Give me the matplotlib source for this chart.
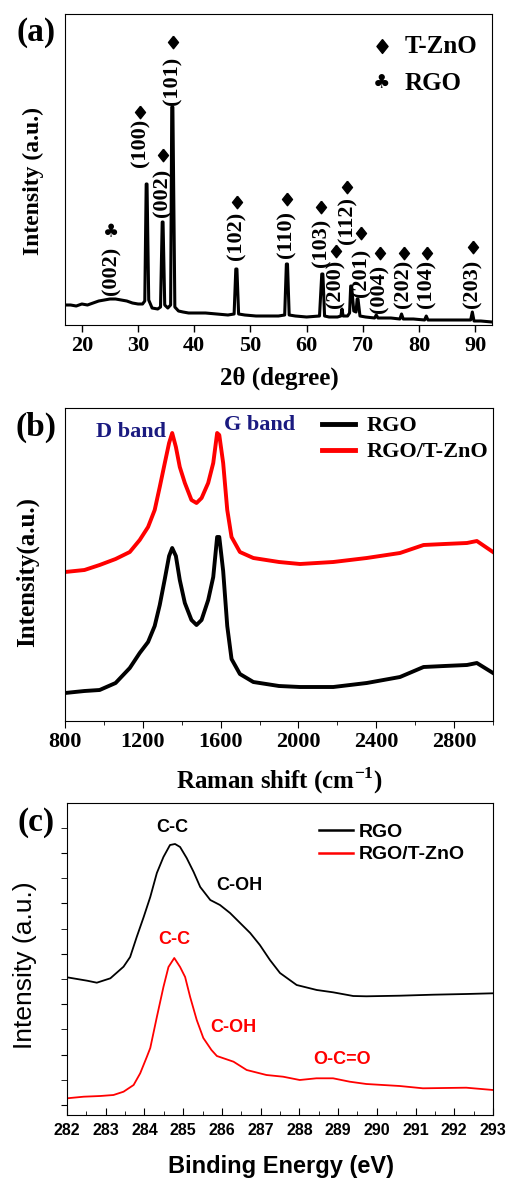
import matplotlib
matplotlib.use("Agg")
import matplotlib.pyplot as plt
from matplotlib.ticker import MultipleLocator, NullLocator

SERIF = ['Liberation Serif', 'DejaVu Serif']
SANS = ['Liberation Sans', 'DejaVu Sans']
plt.rcParams['mathtext.fontset'] = 'custom'
plt.rcParams['mathtext.rm'] = 'Liberation Serif:bold'
plt.rcParams['mathtext.bf'] = 'Liberation Serif:bold'

# ---- (a) XRD ----
xrd_tt = [17, 18, 19, 20, 21, 22, 23, 24, 25, 26,
          27, 28, 29, 30, 30.8, 31.2, 31.45, 31.6, 31.9, 32.5,
          33.5, 34.0, 34.3, 34.45, 34.75, 35.3, 35.8, 36.0, 36.2, 36.55,
          37.2, 38, 39, 40, 42, 44, 46, 47.1, 47.4, 47.6,
          47.9, 49, 51, 53, 55, 56.1, 56.4, 56.6, 56.9, 58,
          60, 62.3, 62.7, 62.9, 63.2, 64, 65.5, 66.1, 66.3, 66.5,
          67.3, 67.65, 67.85, 68.0, 68.4, 68.8, 69.0, 69.15, 69.5, 70.5,
          72.1, 72.4, 72.7, 75, 76.6, 76.9, 77.2, 79, 81.0, 81.3,
          81.6, 84, 87, 89.2, 89.5, 89.8, 91, 93]
xrd_int = [20, 20, 19, 21, 20, 22, 24, 25, 26, 26,
           25, 24, 22, 21, 21, 24, 141, 141, 25, 17,
           16, 18, 103, 103, 20, 17, 20, 218, 218, 18,
           14, 13, 12, 12, 12, 11, 10, 11, 56, 56,
           11, 10, 9, 9, 9, 10, 61, 61, 10, 9,
           8, 9, 51, 51, 9, 8, 8, 9, 16, 9,
           9, 12, 39, 39, 14, 13, 26, 26, 9, 8,
           7, 10, 7, 7, 6, 11, 6, 6, 5, 9,
           5, 5, 5, 5, 13, 4, 4, 3]

hkl_labels = ['(002)', '(100)', '(002)', '(101)', '(102)', '(110)', '(103)',
              '(200)', '(112)', '(201)', '(004)', '(202)', '(104)', '(203)']
hkl_pos = [25.2, 30.4, 34.4, 36.2, 47.6, 56.5, 62.6,
           65.2, 67.2, 69.7, 73.0, 77.3, 81.4, 89.6]
hkl_text_y = [30, 158, 108, 220, 65, 67, 58, 17, 81, 28, 12, 17, 17, 17]
hkl_mark_y = [93, 213, 170, 283, 123, 126, 118, 74, 138, 92, 72, 72, 72, 78]
hkl_phase = ['RGO'] + ['T-ZnO'] * 13

# ---- (b) Raman ----
raman_x = [800, 900, 978, 1060, 1133, 1184, 1227, 1261, 1287, 1313,
           1335, 1351, 1370, 1390, 1416, 1450, 1476, 1502, 1536, 1562,
           1582, 1593, 1613, 1634, 1656, 1699, 1768, 1900, 2008, 2179,
           2351, 2522, 2643, 2750, 2866, 2917, 3000]
raman_rgo = [28, 30, 31, 38, 53, 68, 79, 95, 116, 142,
             165, 173, 165, 141, 118, 101, 96, 101, 121, 144,
             184, 184, 150, 95, 62, 47, 39, 35, 34, 34,
             38, 44, 54, 55, 56, 58, 48]
raman_tzno = [149, 151, 156, 162, 169, 181, 194, 211, 234, 258,
              278, 288, 274, 254, 238, 221, 218, 223, 238, 258,
              288, 286, 258, 211, 184, 169, 163, 159, 157, 159,
              163, 168, 176, 177, 178, 180, 169]

# ---- (c) XPS C1s ----
xps_be = [282.00, 282.52, 282.77, 283.12, 283.46, 283.63, 283.80, 283.98, 284.15, 284.32,
          284.49, 284.66, 284.79, 284.92, 285.09, 285.27, 285.44, 285.70, 285.95, 286.21,
          286.47, 286.73, 286.98, 287.24, 287.50, 287.93, 288.45, 288.87, 289.39, 289.73,
          290.59, 291.45, 292.31, 293.00]
xps_rgo = [137.7, 134.3, 132.3, 136.7, 148.3, 158.0, 178.0, 198.0, 218.0, 242.0,
           258.0, 270.0, 271.0, 268.0, 257.0, 243.0, 228.0, 215.0, 210.0, 202.0,
           192.0, 182.0, 170.0, 155.0, 142.0, 130.0, 125.0, 122.7, 119.0, 118.7,
           119.3, 120.3, 121.0, 121.7]
xps_be2 = [282.00, 282.43, 282.86, 283.20, 283.46, 283.72, 283.89, 284.06, 284.15, 284.32,
           284.49, 284.62, 284.77, 284.92, 285.05, 285.18, 285.35, 285.52, 285.73, 285.87,
           286.30, 286.64, 287.15, 287.58, 288.01, 288.44, 288.87, 289.30, 289.73, 290.59,
           291.19, 292.31, 293.00]
xps_tzno = [16.7, 18.3, 19.0, 20.0, 23.3, 30.0, 41.7, 58.0, 67.0, 98.0,
            128.0, 148.0, 157.0, 148.0, 138.0, 118.0, 95.0, 77.0, 65.0, 59.0,
            53.3, 45.0, 40.0, 38.3, 35.0, 36.7, 36.7, 33.3, 31.0, 29.0,
            26.7, 27.3, 25.0]
xps_notes = ['C-C', 'C-OH', 'C-C', 'C-OH', 'O-C=O']
xps_note_x = [284.73, 286.44, 284.77, 286.30, 289.09]
xps_note_y = [288, 229, 175, 88, 56]
xps_note_c = ['black', 'black', 'red', 'red', 'red']

W, H = 507, 1180
DIAMOND = [(0, 1), (0.8, 0), (0, -1), (-0.8, 0), (0, 1)]


def fx(x):
    return x / W


def fy(y):
    return 1 - y / H


fig = plt.figure(figsize=(W / 100, H / 100), dpi=100)

# panel a
ax1 = fig.add_axes([fx(65), fy(325), (492 - 65) / W, (325 - 14) / H])
ax1.plot(xrd_tt, xrd_int, color='black', lw=2.2)
ax1.set_xlim(17, 93)
ax1.set_ylim(0, 311)
ax1.xaxis.set_major_locator(MultipleLocator(10))
ax1.yaxis.set_major_locator(NullLocator())
ax1.tick_params(axis='x', direction='out', length=5, width=1, pad=3)
for lab, xp, ty, my, ph in zip(hkl_labels, hkl_pos, hkl_text_y, hkl_mark_y, hkl_phase):
    ax1.text(xp, ty, lab, rotation=90, ha='center', va='bottom',
             fontsize=16, fontweight='bold', family=SERIF)
    if ph == 'T-ZnO':
        ax1.plot(xp, my, marker=DIAMOND, color='black', ms=9, ls='none')
    else:
        ax1.text(xp, my, '\u2663', ha='center', va='center',
                 fontsize=13, family=['DejaVu Sans'])
ax1.plot(0.742, 0.897, marker=DIAMOND, color='black', ms=10, ls='none',
         transform=ax1.transAxes)
ax1.text(0.742, 0.778, '\u2663', transform=ax1.transAxes, ha='center',
         va='center', fontsize=14, family=['DejaVu Sans'])
for ph, yy in zip(['T-ZnO', 'RGO'], [0.897, 0.778]):
    ax1.text(0.796, yy, ph, transform=ax1.transAxes, ha='left', va='center',
             fontsize=18, fontweight='bold', family=SERIF)

# panel b
ax2 = fig.add_axes([fx(65), fy(721), (493 - 65) / W, (721 - 408) / H])
ax2.plot(raman_x, raman_rgo, color='black', lw=2.8, label='RGO')
ax2.plot(raman_x, raman_tzno, color='#ff0000', lw=2.8, label='RGO/T-ZnO')
ax2.set_xlim(800, 3000)
ax2.set_ylim(0, 313)
ax2.xaxis.set_major_locator(MultipleLocator(400))
ax2.xaxis.set_minor_locator(MultipleLocator(200))
ax2.yaxis.set_major_locator(NullLocator())
ax2.tick_params(axis='x', which='major', direction='out', length=5, pad=3)
ax2.tick_params(axis='x', which='minor', direction='out', length=3)
leg = ax2.legend(loc='upper left', bbox_to_anchor=(0.60, 0.975), frameon=False,
                 borderaxespad=0, borderpad=0, handlelength=1.5, handletextpad=0.5,
                 labelspacing=0.25, prop={'family': SERIF, 'weight': 'bold', 'size': 16})
for line in leg.get_lines():
    line.set_linewidth(3.5)
fig.text(fx(131), fy(432), 'D band', ha='center', va='center', color='#1a1a80',
         fontsize=16, fontweight='bold', family=SERIF)
fig.text(fx(260), fy(425), 'G band', ha='center', va='center', color='#1a1a80',
         fontsize=16, fontweight='bold', family=SERIF)

# panel c
ax3 = fig.add_axes([fx(67), fy(1115), (493 - 67) / W, (1115 - 803) / H])
ax3.plot(xps_be, xps_rgo, color='black', lw=1.3, label='RGO')
ax3.plot(xps_be2, xps_tzno, color='#ff0000', lw=1.3, label='RGO/T-ZnO')
ax3.set_xlim(282, 293)
ax3.set_ylim(0, 312)
ax3.xaxis.set_major_locator(MultipleLocator(1))
ax3.xaxis.set_minor_locator(MultipleLocator(0.5))
ax3.yaxis.set_major_locator(MultipleLocator(50.4, offset=10))
ax3.yaxis.set_minor_locator(MultipleLocator(25.2, offset=10))
ax3.tick_params(axis='x', which='major', direction='in', length=5, pad=6)
ax3.tick_params(axis='x', which='minor', direction='in', length=3)
ax3.tick_params(axis='y', which='both', direction='out', length=4, labelleft=False)
for t, xn, yn, c in zip(xps_notes, xps_note_x, xps_note_y, xps_note_c):
    ax3.text(xn, yn, t, ha='center', va='center', color=c, fontsize=13,
             fontweight='bold', family=SANS)
leg3 = ax3.legend(loc='upper left', bbox_to_anchor=(0.592, 0.935), frameon=False,
                  borderaxespad=0, borderpad=0, handlelength=1.75, handletextpad=0.3,
                  labelspacing=0.25, prop={'family': SANS, 'weight': 'bold', 'size': 14})
for line in leg3.get_lines():
    line.set_linewidth(1.8)

for ax in (ax1, ax2):
    for lb in ax.get_xticklabels():
        lb.set_fontsize(16)
        lb.set_fontweight('bold')
        lb.set_family(SERIF)
for lb in ax3.get_xticklabels():
    lb.set_fontsize(11.5)
    lb.set_fontweight('bold')
    lb.set_family(SANS)

# axis titles and panel letters
fig.text(fx(279), fy(378), '2\u03b8 (degree)', ha='center', va='center',
         fontsize=18, fontweight='bold', family=SERIF)
fig.text(fx(279), fy(781), r'Raman shift (cm$^{\mathbf{-1}}$)', ha='center', va='center',
         fontsize=18, fontweight='bold', family=SERIF)
fig.text(fx(281), fy(1167), 'Binding Energy (eV)', ha='center', va='center',
         fontsize=17, fontweight='bold', family=SANS)
fig.text(fx(33), fy(181), 'Intensity (a.u.)', rotation=90, ha='center', va='center',
         fontsize=17, fontweight='bold', family=SERIF)
fig.text(fx(27), fy(572), 'Intensity(a.u.)', rotation=90, ha='center', va='center',
         fontsize=18, fontweight='bold', family=SERIF)
fig.text(fx(25), fy(965), 'Intensity (a.u.)', rotation=90, ha='center', va='center',
         fontsize=19, family=SANS)
for lab, yp in zip(['(a)', '(b)', '(c)'], [32, 427, 822]):
    fig.text(fx(36), fy(yp), lab, ha='center', va='center',
             fontsize=24, fontweight='bold', family=SERIF)

fig.savefig('out.png', dpi=100)
